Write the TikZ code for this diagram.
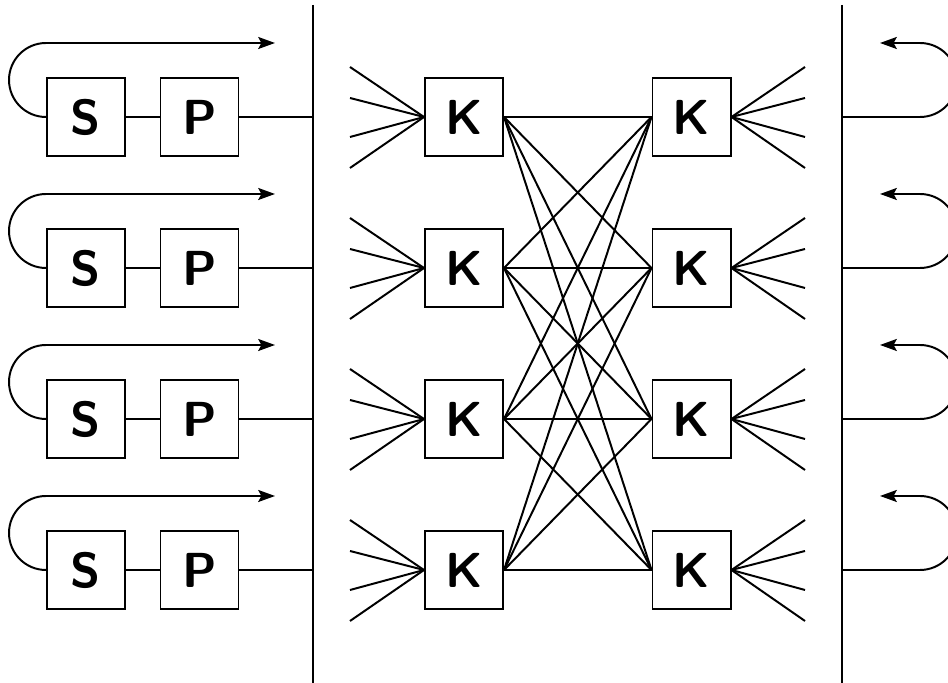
\documentclass[tikz,border=0pt]{standalone}
\usetikzlibrary{arrows.meta}

\begin{document}
\begin{tikzpicture}[
    x=0.025cm, y=0.025cm,
    box/.style={draw, line width=1.4pt, minimum size=1.95cm, inner sep=0pt,
                font=\sffamily\bfseries\fontsize{35}{38}\selectfont},
    wire/.style={line width=1.4pt},
    bus/.style={line width=1.7pt},
    feedback/.style={wire, -{Stealth[length=0.42cm, width=0.3cm, inset=0.08cm]}}
]
\useasboundingbox (0,0) rectangle (948,683);

% Buses
\coordinate (bl-top) at (313,678);
\coordinate (bl-bot) at (313,0);
\coordinate (br-top) at (842,678);
\coordinate (br-bot) at (842,0);
\draw[bus] (bl-top) -- (bl-bot);
\draw[bus] (br-top) -- (br-bot);

\foreach \i in {1,...,4} {
    \pgfmathsetmacro{\y}{566-(\i-1)*151}

    % Stations
    \node[box] (s\i) at (86,\y) {S};
    \node[box] (p\i) at (199.5,\y) {P};
    \draw[wire] (s\i) -- (p\i);
    \coordinate (bl\i) at (313,\y);
    \draw[wire] (p\i) -- (bl\i);

    % Feedback loop
    \coordinate (lt\i) at (275,\y+74);
    \draw[feedback] (s\i.west) arc[start angle=270, end angle=90, radius=37] -- (lt\i);

    % Switch columns
    \node[box] (kl\i) at (464,\y) {K};
    \node[box] (kr\i) at (691.5,\y) {K};

    % Fan-in and fan-out
    \foreach \d [count=\k] in {50,19,-20,-51} {
        \coordinate (inl\i\k) at (350,\y+\d);
        \coordinate (inr\i\k) at (805,\y+\d);
        \draw[wire] (inl\i\k) -- (kl\i.west);
        \draw[wire] (inr\i\k) -- (kr\i.east);
    }

    % Return loop
    \coordinate (br\i) at (842,\y);
    \coordinate (rc\i) at (920,\y);
    \coordinate (rt\i) at (880,\y+74);
    \draw[feedback] (br\i) -- (rc\i) arc[start angle=-90, end angle=90, radius=37] -- (rt\i);
}

% Crossbar between the columns
\foreach \i in {1,...,4} {
    \foreach \j in {1,...,4} {
        \draw[wire] (kl\i.east) -- (kr\j.west);
    }
}

\end{tikzpicture}
\end{document}
